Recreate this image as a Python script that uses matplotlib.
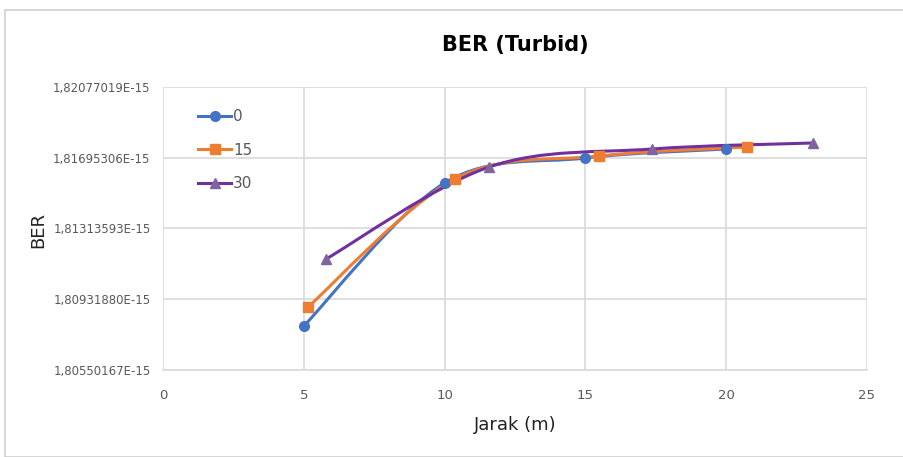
import numpy as np
import matplotlib
matplotlib.use("Agg")
import matplotlib.pyplot as plt
from matplotlib.path import Path
from matplotlib.patches import PathPatch, Rectangle
from matplotlib.ticker import FixedLocator
from matplotlib.lines import Line2D

# ---- data (BER values in units of 1e-15) ----
series_labels = ["0", "15", "30"]
x0 = [5.0, 10.0, 15.0, 20.0]
y0 = [1.807876, 1.815591, 1.816940, 1.817425]
x15 = [5.15, 10.37, 15.48, 20.74]
y15 = [1.808901, 1.815806, 1.817047, 1.817533]
x30 = [5.79, 11.58, 17.37, 23.08]
y30 = [1.811490, 1.816454, 1.817425, 1.817749]
yticks = [1.80550167, 1.80931880, 1.81313593, 1.81695306, 1.82077019]
ytick_labels = ["1,80550167E-15", "1,80931880E-15", "1,81313593E-15",
                "1,81695306E-15", "1,82077019E-15"]
xticks = [0, 5, 10, 15, 20, 25]

colors = ["#4472C4", "#ED7D31", "#7030A0"]
markers = ["o", "s", "^"]
mfc = ["#4472C4", "#ED7D31", "#8064A2"]

fig = plt.figure(figsize=(9.04, 4.57), dpi=100)
fig.patches.append(Rectangle((5/904, 0.0), 1.2, 1 - 10/457, transform=fig.transFigure,
                             fill=False, edgecolor="#d0d0d0", linewidth=1.2))
ax = fig.add_axes([163/904, 1 - 370/457, (867 - 163)/904, (370 - 87)/457])

def smooth_path(xs, ys, t=0.5 / 3):
    xs = np.asarray(xs, float); ys = np.asarray(ys, float)
    n = len(xs)
    verts = [(xs[0], ys[0])]
    codes = [Path.MOVETO]
    for i in range(n - 1):
        p0 = np.array([xs[max(i - 1, 0)], ys[max(i - 1, 0)]])
        p1 = np.array([xs[i], ys[i]])
        p2 = np.array([xs[i + 1], ys[i + 1]])
        p3 = np.array([xs[min(i + 2, n - 1)], ys[min(i + 2, n - 1)]])
        c1 = p1 + (p2 - p0) * t
        c2 = p2 - (p3 - p1) * t
        verts += [tuple(c1), tuple(c2), tuple(p2)]
        codes += [Path.CURVE4] * 3
    return Path(verts, codes)

data = [(x0, y0), (x15, y15), (x30, y30)]
handles = []
for (xs, ys), c, m, f, lab in zip(data, colors, markers, mfc, series_labels):
    ax.add_patch(PathPatch(smooth_path(xs, ys), facecolor="none", edgecolor=c,
                           linewidth=2.2, zorder=3))
    ax.plot(xs, ys, linestyle="none", marker=m, markersize=7, color=c,
            markerfacecolor=f, markeredgecolor=f, zorder=4)
    handles.append(Line2D([], [], color=c, linewidth=2.2, marker=m, markersize=7,
                          markerfacecolor=f, markeredgecolor=f, label=lab))

ax.set_xlim(0, 25)
ax.set_ylim(yticks[0], yticks[-1])
ax.xaxis.set_major_locator(FixedLocator(xticks))
ax.set_yticks(yticks)
ax.set_yticklabels(ytick_labels)
ax.grid(True, color="#d9d9d9", linewidth=1.2)
ax.set_axisbelow(True)
for s in ["top", "right", "left"]:
    ax.spines[s].set_visible(False)
ax.spines["bottom"].set_color("#d9d9d9")
ax.spines["bottom"].set_linewidth(1.2)
ax.tick_params(length=0, labelcolor="#595959")
ax.tick_params(axis="x", pad=14, labelsize=9.5)
ax.tick_params(axis="y", pad=9, labelsize=8.5)

ax.set_xlabel("Jarak (m)", fontsize=13, color="#222222", labelpad=10)
fig.text(38/904, 1 - 230/457, "BER", rotation=90, fontsize=13, color="#222222",
         ha="center", va="center")
fig.text(515/904, 1 - 45/457, "BER (Turbid)", fontsize=15, fontweight="bold",
         ha="center", va="center")

leg = ax.legend(handles=handles, loc="upper left", bbox_to_anchor=(0.03, 0.97),
                frameon=False, fontsize=11, labelspacing=1.2, handlelength=2.2,
                handletextpad=0.1)
for t in leg.get_texts():
    t.set_color("#595959")

fig.savefig("out.png", dpi=100)
